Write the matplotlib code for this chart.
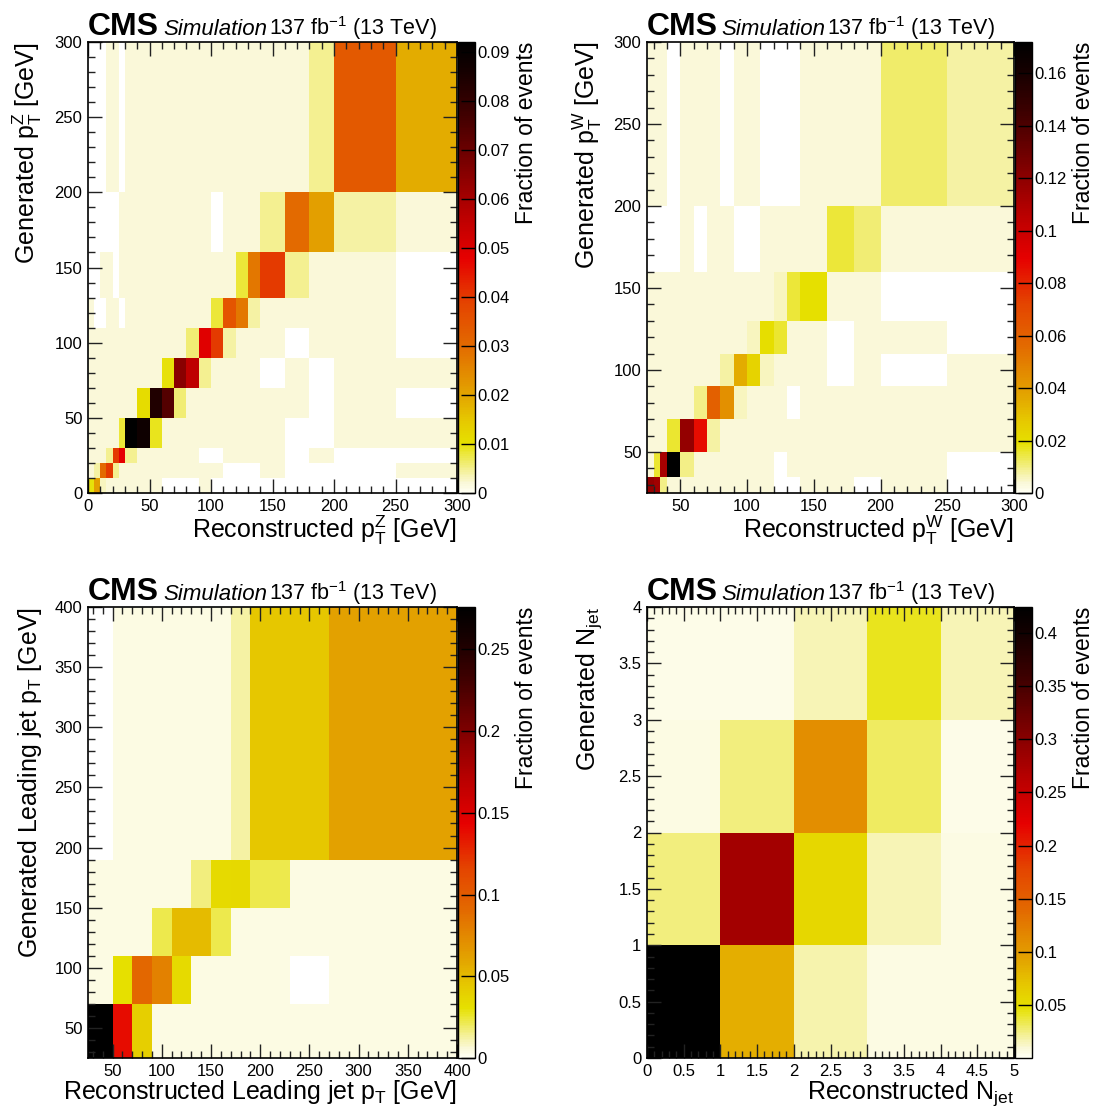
#!/usr/bin/env python3

import numpy
from matplotlib import pyplot
from matplotlib.colors import LinearSegmentedColormap
from matplotlib.ticker import MultipleLocator, FormatStrFormatter

pyplot.rcParams["font.family"] = ["Liberation Sans", "DejaVu Sans"]
pyplot.rcParams["mathtext.fontset"] = "custom"
pyplot.rcParams["mathtext.rm"] = "Liberation Sans"
pyplot.rcParams["mathtext.it"] = "Liberation Sans:italic"
pyplot.rcParams["mathtext.bf"] = "Liberation Sans:bold"

# ---------------------------------------------------------------- Z pT
z_reco_edges = [0, 5, 10, 15, 20, 25, 30, 40, 50, 60, 70, 80, 90, 100, 110,
                120, 130, 140, 160, 180, 200, 250, 300]
z_gen_edges = [0, 10, 20, 30, 50, 70, 90, 110, 130, 160, 200, 300]
z_fraction = [
    [0.010, 0.021, 0.003, 0.002, 0.002, 0.002, 0.002, 0.002, 0.002, 0, 0, 0, 0.002, 0, 0, 0, 0, 0, 0, 0, 0, 0],
    [0.002, 0.004, 0.030, 0.040, 0.005, 0.002, 0.002, 0.002, 0.002, 0.002, 0.002, 0.002, 0.002, 0.002, 0, 0, 0, 0.002, 0, 0, 0, 0.002],
    [0.002, 0.002, 0.002, 0.005, 0.040, 0.048, 0.005, 0.002, 0.002, 0.002, 0.002, 0.002, 0, 0, 0.002, 0.002, 0.002, 0.002, 0, 0.002, 0, 0],
    [0.002, 0.002, 0.002, 0.002, 0.002, 0.008, 0.092, 0.088, 0.009, 0.002, 0.002, 0.002, 0.002, 0.002, 0.002, 0.002, 0.002, 0.002, 0, 0, 0.002, 0.002],
    [0.002, 0.002, 0.002, 0.002, 0.002, 0.002, 0.002, 0.011, 0.084, 0.074, 0.006, 0.002, 0.002, 0.002, 0.002, 0.002, 0.002, 0.002, 0.002, 0, 0.002, 0],
    [0.002, 0.002, 0.002, 0.002, 0.002, 0.002, 0.002, 0.002, 0.002, 0.010, 0.065, 0.056, 0.005, 0.002, 0.002, 0.002, 0.002, 0, 0.002, 0, 0.002, 0.002],
    [0.002, 0.002, 0.002, 0.002, 0.002, 0.002, 0.002, 0.002, 0.002, 0.002, 0.002, 0.006, 0.049, 0.040, 0.004, 0.002, 0.002, 0.002, 0, 0.002, 0.002, 0],
    [0.002, 0, 0, 0.002, 0.002, 0, 0.002, 0.002, 0.002, 0.002, 0.002, 0.002, 0.002, 0.008, 0.035, 0.028, 0.004, 0.002, 0.002, 0.002, 0.002, 0],
    [0, 0, 0.002, 0.002, 0, 0.002, 0.002, 0.002, 0.002, 0.002, 0.002, 0.002, 0.002, 0.002, 0.002, 0.008, 0.028, 0.040, 0.005, 0.002, 0.002, 0],
    [0, 0, 0, 0, 0, 0.002, 0.002, 0.002, 0.002, 0.002, 0.002, 0.002, 0.002, 0, 0.002, 0.002, 0.002, 0.005, 0.030, 0.021, 0.004, 0.002],
    [0, 0, 0, 0.002, 0.002, 0, 0.002, 0.002, 0.002, 0.002, 0.002, 0.002, 0.002, 0.002, 0.002, 0.002, 0.002, 0.002, 0.002, 0.005, 0.034, 0.019],
]

# ---------------------------------------------------------------- W pT
w_reco_edges = [25, 30, 35, 40, 50, 60, 70, 80, 90, 100, 110, 120, 130, 140,
                160, 180, 200, 250, 300]
w_gen_edges = [25, 35, 50, 70, 90, 110, 130, 160, 200, 300]
w_fraction = [
    [0.118, 0.114, 0.010, 0.0035, 0.0035, 0.0035, 0.0035, 0.0035, 0.0035, 0.0035, 0.0035, 0, 0, 0.0035, 0.0035, 0, 0.0035, 0],
    [0.0035, 0.016, 0.112, 0.172, 0.010, 0.0035, 0.0035, 0.0035, 0.0035, 0.0035, 0.0035, 0, 0.0035, 0.0035, 0.0035, 0.0035, 0.0035, 0],
    [0.0035, 0.0035, 0.0035, 0.016, 0.118, 0.086, 0.008, 0.0035, 0.0035, 0.0035, 0.0035, 0.0035, 0.0035, 0.0035, 0.0035, 0.0035, 0.0035, 0.0035],
    [0.0035, 0.0035, 0.0035, 0.0035, 0.0035, 0.010, 0.060, 0.044, 0.006, 0.0035, 0.0035, 0.0035, 0, 0.0035, 0.0035, 0.0035, 0.0035, 0.0035],
    [0.0035, 0.0035, 0.0035, 0.0035, 0.0035, 0.0035, 0.0035, 0.008, 0.035, 0.024, 0.006, 0.0035, 0.0035, 0.0035, 0, 0.0035, 0, 0.0035],
    [0.0035, 0.0035, 0.0035, 0.0035, 0.0035, 0.0035, 0.0035, 0.0035, 0.0035, 0.006, 0.020, 0.016, 0.0035, 0.0035, 0, 0.0035, 0.0035, 0],
    [0.0035, 0.0035, 0.0035, 0.0035, 0.0035, 0.0035, 0.0035, 0.0035, 0.0035, 0.0035, 0.0035, 0.006, 0.015, 0.019, 0.0035, 0.0035, 0, 0],
    [0, 0, 0, 0, 0.0035, 0, 0.0035, 0.0035, 0, 0, 0.0035, 0.0035, 0.0035, 0.0035, 0.015, 0.011, 0.0035, 0.0035],
    [0.0035, 0.0035, 0.0035, 0, 0.0035, 0.0035, 0.0035, 0, 0.0035, 0.0035, 0, 0, 0, 0.0035, 0.0035, 0.0035, 0.012, 0.008],
]

# ---------------------------------------------------------------- leading jet pT
jet_reco_edges = [25, 50, 70, 90, 110, 130, 150, 170, 190, 230, 270, 400]
jet_gen_edges = [25, 70, 110, 150, 190, 400]
jet_fraction = [
    [0.276, 0.138, 0.040, 0.004, 0.004, 0.004, 0.004, 0.004, 0.004, 0.004, 0.004],
    [0.004, 0.031, 0.092, 0.078, 0.034, 0.004, 0.004, 0.004, 0.004, 0, 0.004],
    [0.004, 0.004, 0.004, 0.022, 0.050, 0.050, 0.022, 0.004, 0.004, 0.004, 0.004],
    [0.004, 0.004, 0.004, 0.004, 0.004, 0.017, 0.034, 0.035, 0.022, 0.004, 0.004],
    [0, 0.004, 0.004, 0.004, 0.004, 0.004, 0.004, 0.012, 0.045, 0.045, 0.062],
]

# ---------------------------------------------------------------- jet multiplicity
njet_reco_edges = [0, 1, 2, 3, 4, 5]
njet_gen_edges = [0, 1, 2, 3, 4]
njet_fraction = [
    [0.424, 0.085, 0.018, 0.006, 0.006],
    [0.025, 0.280, 0.055, 0.015, 0.005],
    [0.005, 0.025, 0.110, 0.030, 0.004],
    [0.004, 0.004, 0.015, 0.042, 0.015],
]

# light cream -> yellow -> orange -> red -> black palette
palette = LinearSegmentedColormap.from_list("bodyrad", [
    (0.00, "#fffff2"), (0.02, "#faf8d8"), (0.045, "#f5f2a0"),
    (0.07, "#efeb62"), (0.09, "#ebe630"), (0.11, "#e6e000"),
    (0.16, "#e6c800"), (0.21, "#e3a800"), (0.27, "#e38800"),
    (0.33, "#e36800"), (0.42, "#e44400"), (0.52, "#e60000"),
    (0.62, "#b80000"), (0.73, "#7c0000"), (0.84, "#400000"),
    (0.94, "#140000"), (1.00, "#000000")])

fig = pyplot.figure(figsize=(10.97, 11.10), dpi=100)
W, H = 1097.0, 1110.0


def panel(box, xedges, yedges, values, vmax, cticks, xlabel, ylabel,
          xmajor, xminor, ymajor, yminor, fmt="%g"):
    left, top, width, height = box
    ax = fig.add_axes([left / W, 1 - (top + height) / H, width / W, height / H])
    cax = fig.add_axes([(left + width + 1) / W, 1 - (top + height) / H,
                        17 / W, height / H])

    z = numpy.ma.masked_equal(numpy.array(values, dtype=float), 0.0)
    mesh = ax.pcolormesh(xedges, yedges, z, cmap=palette, vmin=0, vmax=vmax)
    ax.set_xlim(xedges[0], xedges[-1])
    ax.set_ylim(yedges[0], yedges[-1])

    ax.xaxis.set_major_locator(MultipleLocator(xmajor))
    ax.xaxis.set_minor_locator(MultipleLocator(xminor))
    ax.yaxis.set_major_locator(MultipleLocator(ymajor))
    ax.yaxis.set_minor_locator(MultipleLocator(yminor))
    ax.xaxis.set_major_formatter(FormatStrFormatter(fmt))
    ax.yaxis.set_major_formatter(FormatStrFormatter(fmt))
    ax.tick_params(which="both", direction="in", top=True, right=True,
                   labelsize=12, width=1, color="#222222")
    ax.tick_params(which="major", length=10, pad=4)
    ax.tick_params(which="minor", length=5)
    for s in ax.spines.values():
        s.set_linewidth(1.2)

    ax.set_xlabel(xlabel, fontsize=18, loc="right")
    ax.set_ylabel(ylabel, fontsize=18, loc="top")
    ax.xaxis.set_label_coords(1.0, -0.045)
    ax.yaxis.set_label_coords(-0.118, 1.0)

    cb = fig.colorbar(mesh, cax=cax)
    cb.set_ticks(cticks)
    cb.ax.yaxis.set_major_formatter(FormatStrFormatter("%g"))
    cb.ax.tick_params(direction="in", length=10, width=1, labelsize=12, pad=2)
    cb.outline.set_linewidth(1.0)
    cb.set_label("Fraction of events", fontsize=16.5, loc="top")
    cb.ax.yaxis.set_label_coords(3.35, 1.0)

    ax.text(0.0, 1.016, "CMS", transform=ax.transAxes, fontsize=23,
            fontweight="bold", va="baseline")
    ax.text(0.203, 1.016, "Simulation", transform=ax.transAxes, fontsize=16,
            fontstyle="italic", va="baseline")
    ax.text(0.49, 1.016, "137 fb$^{-1}$ (13 TeV)", transform=ax.transAxes,
            fontsize=15.5, va="baseline")
    return ax


panel((88, 42, 369, 451), z_reco_edges, z_gen_edges, z_fraction, 0.092,
      [0, 0.01, 0.02, 0.03, 0.04, 0.05, 0.06, 0.07, 0.08, 0.09],
      r"Reconstructed $\mathrm{p_T^Z}$ [GeV]", r"Generated $\mathrm{p_T^Z}$ [GeV]",
      50, 10, 50, 10)

panel((647, 42, 367, 451), w_reco_edges, w_gen_edges, w_fraction, 0.172,
      [0, 0.02, 0.04, 0.06, 0.08, 0.1, 0.12, 0.14, 0.16],
      r"Reconstructed $\mathrm{p_T^W}$ [GeV]", r"Generated $\mathrm{p_T^W}$ [GeV]",
      50, 10, 50, 10)

panel((88, 607, 369, 451), jet_reco_edges, jet_gen_edges, jet_fraction, 0.276,
      [0, 0.05, 0.1, 0.15, 0.2, 0.25],
      r"Reconstructed Leading jet $\mathrm{p_T}$ [GeV]",
      r"Generated Leading jet $\mathrm{p_T}$ [GeV]",
      50, 10, 50, 10)

panel((647, 607, 367, 451), njet_reco_edges, njet_gen_edges, njet_fraction, 0.4246,
      [0.05, 0.1, 0.15, 0.2, 0.25, 0.3, 0.35, 0.4],
      r"Reconstructed $\mathrm{N_{jet}}$", r"Generated $\mathrm{N_{jet}}$",
      0.5, 0.1, 0.5, 0.1)

pyplot.savefig("out.png", dpi=100)
